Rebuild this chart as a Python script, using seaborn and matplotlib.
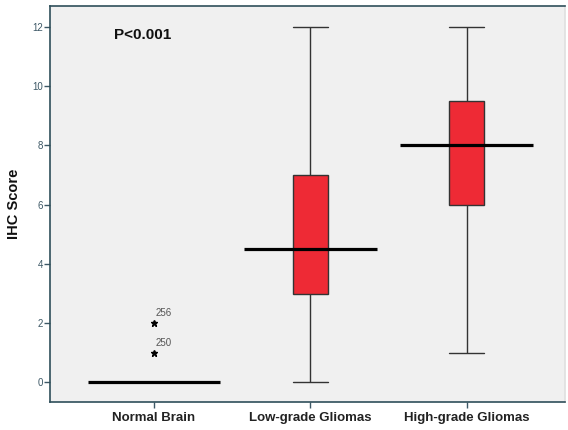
import pandas as pd
import matplotlib
matplotlib.use("Agg")
import matplotlib.pyplot as plt
import seaborn as sns

# Dados (resumo de cada grupo)
groups = ["Normal Brain", "Low-grade Gliomas", "High-grade Gliomas"]
normal_scores = [0] * 10 + [1, 2]
low_scores = [0, 3, 4.5, 7, 12]
high_scores = [1, 6, 8, 9.5, 12]
outlier_ids = ["250", "256"]
outlier_values = [1, 2]
y_ticks = [0, 2, 4, 6, 8, 10, 12]

scores = [normal_scores, low_scores, high_scores]
df = pd.DataFrame({
    "Group": [g for g, vals in zip(groups, scores) for _ in vals],
    "Score": [v for vals in scores for v in vals],
})

sns.set_theme(style="white")
plt.rcParams["font.family"] = ["Liberation Sans", "DejaVu Sans"]

fig = plt.figure(figsize=(5.68, 4.30), dpi=100)
ax = fig.add_axes([0.088, 0.065, 0.907, 0.921])
ax.set_facecolor("#f0f0f0")

edge = "#333333"
# caixas, bigodes e outliers
sns.boxplot(
    data=df, x="Group", y="Score", order=groups, ax=ax,
    color="#ee2a35", saturation=1, width=0.22, linecolor=edge, linewidth=1,
    capwidths=0.22,
    medianprops={"visible": False},
    flierprops={"marker": "*", "markersize": 5, "markerfacecolor": "black",
                "markeredgecolor": "black"},
)
# linha da mediana mais larga que a caixa (estilo SPSS)
sns.boxplot(
    data=df, x="Group", y="Score", order=groups, ax=ax,
    width=0.85, showbox=False, showcaps=False, showfliers=False,
    whiskerprops={"visible": False},
    medianprops={"color": "black", "linewidth": 2.3},
)

# rótulos dos casos atípicos
for cid, val in zip(outlier_ids, outlier_values):
    ax.annotate(cid, (0, val), xytext=(1.5, 5), textcoords="offset points",
                fontsize=7, color="#555555")

ax.text(0.18, 0.927, "P<0.001", transform=ax.transAxes, ha="center",
        va="center", fontsize=11, fontweight="bold", color="#111111")

ax.set_xlim(-0.665, 2.63)
ax.set_ylim(-0.66, 12.7)
ax.set_yticks(y_ticks)
ax.set_yticklabels([str(t) for t in y_ticks], fontsize=7, color="#3d5866")
ax.set_xticks(range(len(groups)))
ax.set_xticklabels(groups, fontsize=9.5, fontweight="bold", color="#222222")
ax.tick_params(axis="y", length=4, width=1, color="#3d5866", left=True, pad=1)
ax.tick_params(axis="x", length=4, width=1, color="#3d5866", bottom=True, pad=3)
ax.set_xlabel("")
ax.set_ylabel("IHC Score", fontsize=10.5, fontweight="bold", color="#111111",
              labelpad=8)

for side in ["left", "bottom", "top"]:
    ax.spines[side].set_color("#2f4f5a")
    ax.spines[side].set_linewidth(1.2)
ax.spines["right"].set_color("#e0e0e0")

plt.savefig("out.png", dpi=100)
plt.close()
